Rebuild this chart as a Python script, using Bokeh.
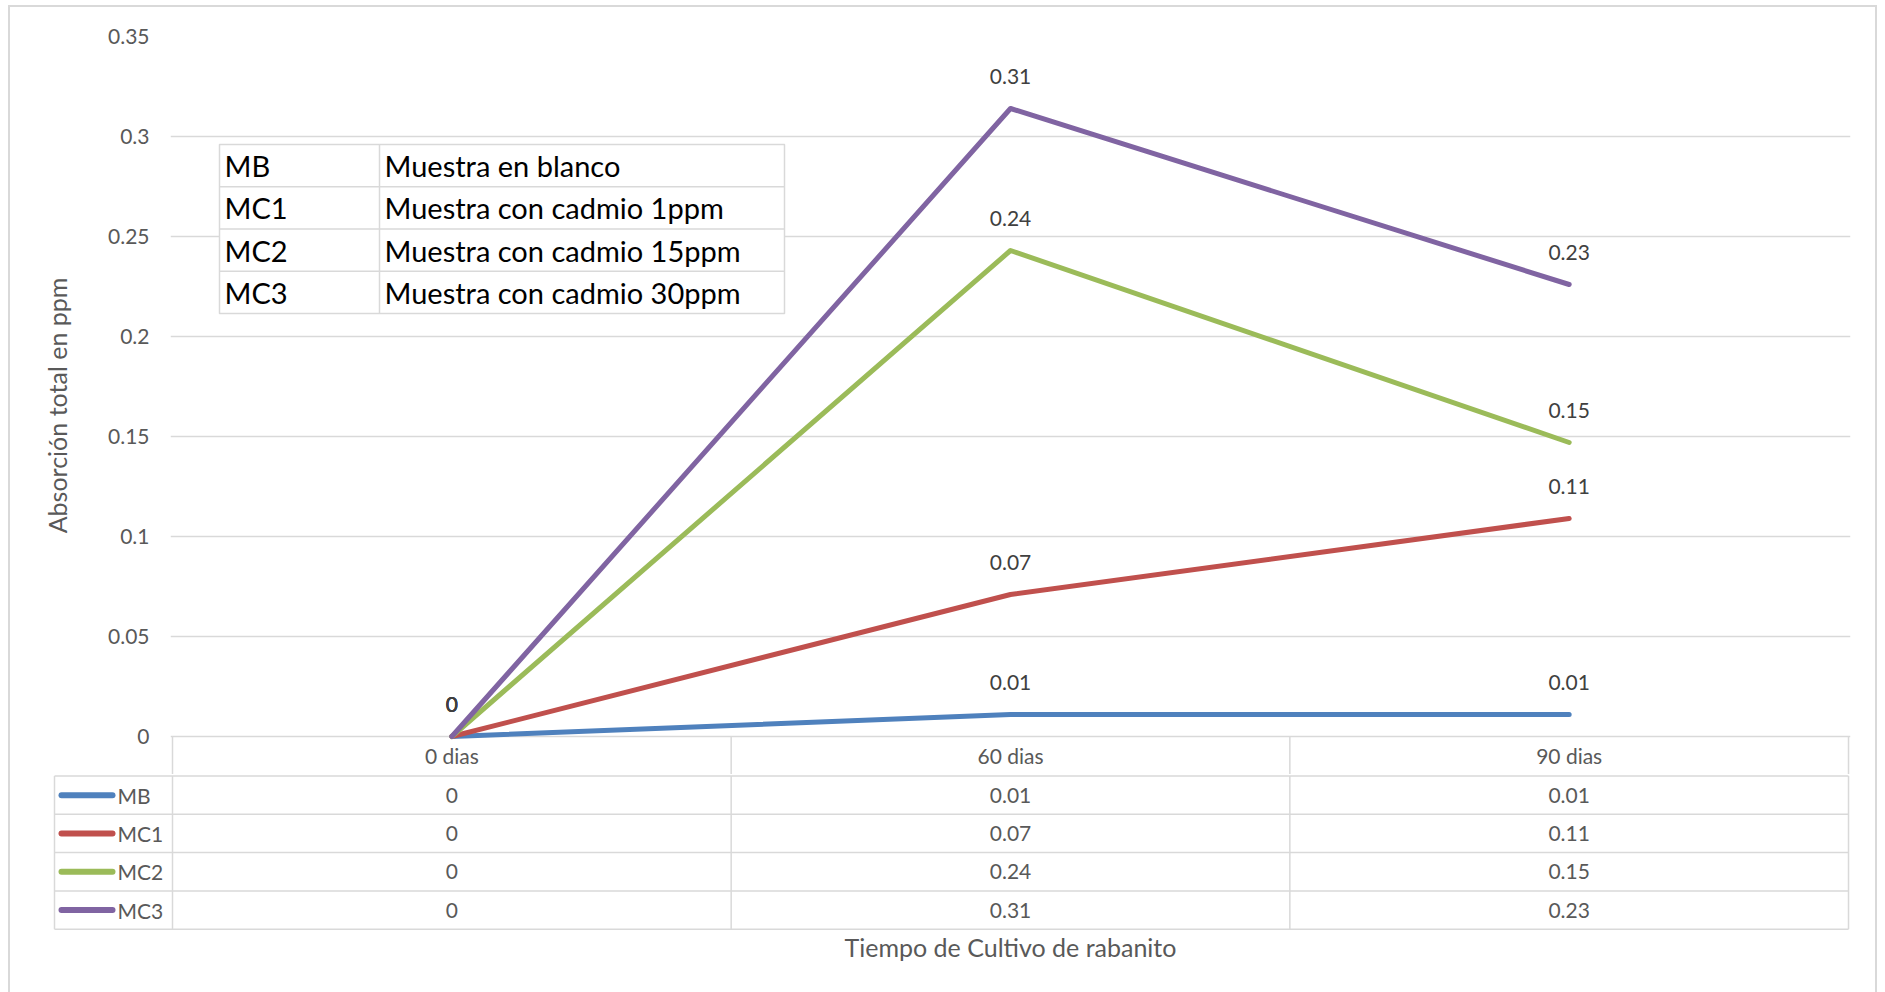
from bokeh.plotting import figure
from bokeh.layouts import column
from bokeh.models import Range1d, FixedTicker, NumeralTickFormatter
from bokeh.core.properties import value
from bokeh.embed import file_html
from bokeh.resources import INLINE

# ---------------- data ----------------
CATS = ["0 dias", "60 dias", "90 dias"]
SERIES = ["MB", "MC1", "MC2", "MC3"]
DESCRIPTIONS = ["Muestra en blanco", "Muestra con cadmio 1ppm",
                "Muestra con cadmio 15ppm", "Muestra con cadmio 30ppm"]
MB = [0, 0.011, 0.011]
MC1 = [0, 0.071, 0.109]
MC2 = [0, 0.243, 0.147]
MC3 = [0, 0.314, 0.226]
YTICKS = [0, 0.05, 0.1, 0.15, 0.2, 0.25, 0.3, 0.35]
Y_TITLE = "Absorción total en ppm"
X_TITLE = "Tiempo de Cultivo de rabanito"

# ---------------- style ----------------
COLORS = ["#4F81BD", "#C0504D", "#9BBB59", "#8064A2"]
FONT = "Lato"
TXT = "#595959"
LBL = "#404040"
GRID = "#d9d9d9"
FS = "21px"
FT = "25px"
FI = "29px"

VALUES = [MB, MC1, MC2, MC3]
XS = [i + 0.5 for i in range(len(CATS))]
BOUNDS = list(range(len(CATS) + 1))


def fmt(v):
    return f"{round(v, 2):g}"


CW = 558.67      # px per category
YS = 2000.0      # px per ppm unit
X0 = 172         # page x of category 0 start
Y0 = 736         # page y of value 0
TOP = 36
H1 = 774


def dx(px):
    return (px - X0) / CW


def dy(py):
    return (Y0 - py) / YS


# ---------------- chart figure ----------------
p1 = figure(width=1885, height=H1,
            x_range=Range1d(dx(170), dx(1850)),
            y_range=Range1d(dy(H1), dy(TOP)),
            x_axis_type=None, output_backend="svg", toolbar_location=None,
            min_border_left=170, min_border_right=35, min_border_top=TOP,
            min_border_bottom=0, outline_line_color=None,
            border_fill_color=None, background_fill_color=None)
p1.frame_align = False

ax = p1.yaxis[0]
ax.ticker = FixedTicker(ticks=YTICKS)
ax.formatter = NumeralTickFormatter(format="0.[00]")
ax.axis_line_color = None
ax.major_tick_line_color = None
ax.minor_tick_line_color = None
ax.major_label_standoff = 15
ax.major_label_text_font = FONT
ax.major_label_text_font_size = FS
ax.major_label_text_color = TXT
ax.axis_label = Y_TITLE
ax.axis_label_standoff = 33
ax.axis_label_text_font = FONT
ax.axis_label_text_font_size = FT
ax.axis_label_text_font_style = "normal"
ax.axis_label_text_color = TXT
p1.ygrid.grid_line_color = GRID
p1.ygrid.grid_line_width = 1.3

# header row of the data table (category names)
p1.segment(x0=BOUNDS, y0=0, x1=BOUNDS, y1=dy(H1), line_color=GRID, line_width=1.5)
p1.text(x=XS, y=dy((Y0 + H1) / 2), text=CATS, text_align="center",
        text_baseline="middle", text_font=value(FONT), text_font_size=FS,
        text_color=TXT)

# inset legend table
L, M, R = dx(219), dx(379), dx(784)
T, B = dy(144), dy(313)
rh = (T - B) / len(SERIES)
p1.quad(left=L, right=R, top=T, bottom=B, fill_color="white",
        line_color=GRID, line_width=1.5)
row_lines = [T - rh * (i + 1) for i in range(len(SERIES) - 1)]
p1.segment(x0=L, x1=R, y0=row_lines, y1=row_lines, line_color=GRID, line_width=1.5)
p1.segment(x0=M, x1=M, y0=T, y1=B, line_color=GRID, line_width=1.5)
row_mid = [T - rh * (i + 0.5) for i in range(len(SERIES))]
p1.text(x=dx(224), y=row_mid, text=SERIES, text_baseline="middle",
        text_font=value(FONT), text_font_size=FI, text_color="black")
p1.text(x=dx(384), y=row_mid, text=DESCRIPTIONS, text_baseline="middle",
        text_font=value(FONT), text_font_size=FI, text_color="black")

# series lines and data labels
for vals, col in zip(VALUES, COLORS):
    p1.line(XS, vals, line_color=col, line_width=5,
            line_cap="round", line_join="round")
for vals in VALUES:
    p1.text(x=XS, y=vals, text=[fmt(v) for v in vals], y_offset=-32,
            text_align="center", text_baseline="middle",
            text_font=value(FONT), text_font_size=FS, text_color=LBL)

# ---------------- data table figure ----------------
RH = 38.3
H2 = 992 - H1
PAD = 1.5
p2 = figure(width=1885, height=H2,
            x_range=Range1d(dx(52), dx(1850)),
            y_range=Range1d((PAD - H2) / RH, PAD / RH),
            x_axis_type=None, y_axis_type=None,
            output_backend="svg", toolbar_location=None,
            min_border_left=52, min_border_right=35, min_border_top=0,
            min_border_bottom=0, outline_line_color=None,
            border_fill_color=None, background_fill_color=None)
p2.frame_align = False

nrows = len(SERIES)
TL = dx(54)
hl = [-i for i in range(nrows + 1)]
p2.segment(x0=TL, x1=BOUNDS[-1], y0=hl, y1=hl, line_color=GRID, line_width=1.5)
vl = [TL] + BOUNDS
p2.segment(x0=vl, x1=vl, y0=0, y1=-nrows, line_color=GRID, line_width=1.5)

mids = [-(i + 0.5) for i in range(nrows)]
p2.segment(x0=dx(61), x1=dx(112), y0=mids, y1=mids, line_color=COLORS,
           line_width=6, line_cap="round")
p2.text(x=dx(117), y=mids, text=SERIES, text_baseline="middle",
        text_font=value(FONT), text_font_size=FS, text_color=TXT)

for i, vals in enumerate(VALUES):
    p2.text(x=XS, y=[mids[i]] * len(XS), text=[fmt(v) for v in vals],
            text_align="center", text_baseline="middle",
            text_font=value(FONT), text_font_size=FS, text_color=TXT)

p2.text(x=[sum(XS) / len(XS)], y=[-(946 - H1 - PAD) / RH], text=[X_TITLE],
        text_align="center", text_baseline="middle",
        text_font=value(FONT), text_font_size=FT, text_color=TXT)

g = "linear-gradient(#d9d9d9,#d9d9d9)"
layout = column(p1, p2, spacing=0, styles={
    "background": (f"{g} 8px 5px/2px 100% no-repeat, "
                   f"{g} 8px 5px/1869px 2px no-repeat, "
                   f"{g} 1875px 5px/2px 100% no-repeat, white")})

open("out.html", "w").write(file_html(layout, INLINE))
